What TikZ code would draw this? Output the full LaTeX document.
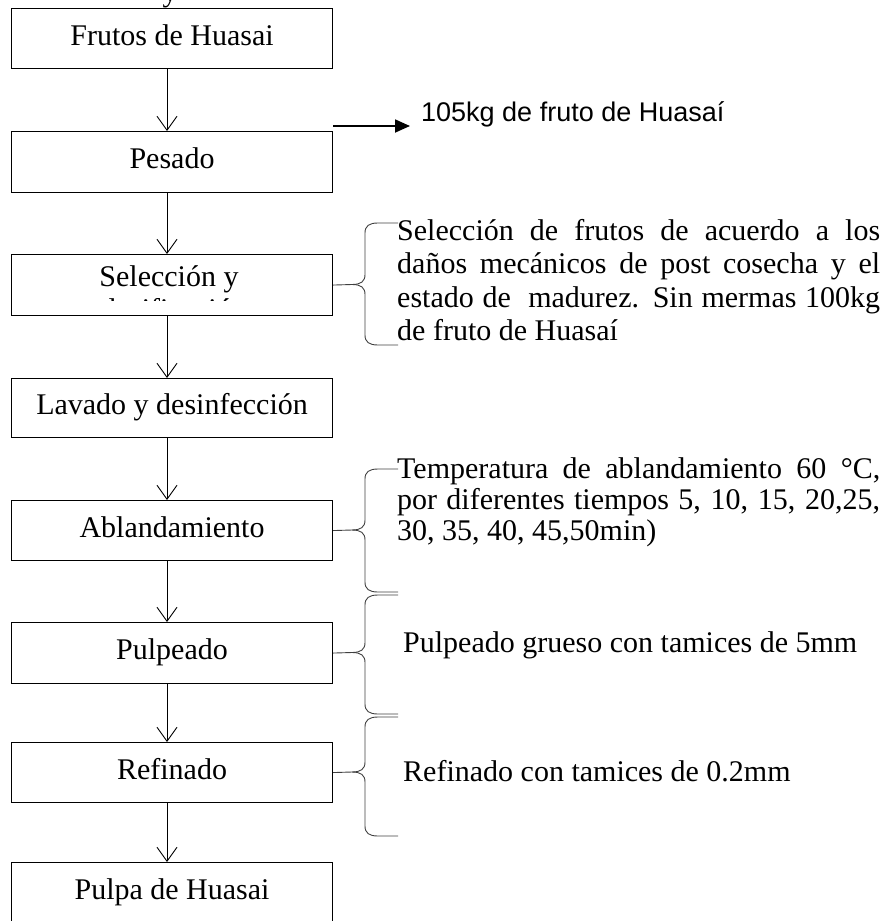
\documentclass[tikz,border=0pt]{standalone}
\usepackage{fontspec}
\setmainfont{Liberation Serif}
\newfontfamily\arialfont{Liberation Sans}
\usetikzlibrary{arrows.meta}

% side brace: #1 = stage node, #2 = top y, #3 = middle y, #4 = bottom y
\newcommand\sidebrace[4]{%
  \draw[bracestyle] (#1.east) -- (352,#3)
    .. controls (361,#3) and (365,#3-3) .. (365,#3-10)
    -- (365,#2+10) .. controls (365,#2+3) and (369,#2) .. (378,#2) -- (398,#2);
  \draw[bracestyle] (352,#3)
    .. controls (361,#3) and (365,#3+3) .. (365,#3+10)
    -- (365,#4-10) .. controls (365,#4-3) and (369,#4) .. (378,#4) -- (398,#4);
}

\begin{document}
\begin{tikzpicture}[x=1pt,y=-1pt,
  stage/.style={draw, line width=1.1pt, minimum width=321pt, inner sep=0pt,
    anchor=north west, font=\fontsize{30}{34}\selectfont,
    text height=20pt, text depth=6.5pt},
  flow/.style={line width=0.9pt,
    -{Straight Barb[length=14pt,width=20pt,line width=0.9pt]}},
  note/.style={inner sep=0pt, anchor=base west, text width=483pt, align=justify,
    execute at begin node={\hyphenpenalty=10000 \tolerance=10000 }},
  line/.style={inner sep=0pt, anchor=base west, font=\fontsize{30}{33.5}\selectfont},
  bracestyle/.style={line width=0.9pt, black!75}]

\useasboundingbox (0,0) rectangle (887,921);

% descender of the heading line above the chart
\node[inner sep=0pt, anchor=base, font=\fontsize{30}{34}\selectfont] (head) at (170,1) {y};

% process stages
\node[stage, minimum height=60pt] (frutos) at (11,8)   {Frutos de Huasai};
\node[stage, minimum height=61pt] (pesado) at (11,131) {Pesado};
\node[stage, minimum height=61pt] (selec)  at (11,254) {};
\node[stage, minimum height=59pt] (lavado) at (11,378) {Lavado y desinfección};
\node[stage, minimum height=60pt] (ablan)  at (11,500) {Ablandamiento};
\node[stage, minimum height=61pt] (pulpeo) at (11,622) {Pulpeado};
\node[stage, minimum height=60pt] (refin)  at (11,742) {Refinado};
\node[stage, minimum height=61pt] (pulpa)  at (11,862) {Pulpa de Huasai};

% label of the selection stage (second line cut by the frame)
\node[inner sep=0pt, anchor=base, font=\fontsize{30}{34}\selectfont] (seltxt) at (169,286) {Selección y};
\begin{scope}
  \clip (12,298) rectangle (331,300.5);
  \node[inner sep=0pt, anchor=base, font=\fontsize{30}{34}\selectfont] (selcut) at (171,319.5) {clasificación};
\end{scope}

% flow arrows
\coordinate (ax) at (167,0);
\draw[flow] (frutos.south -| ax) -- (pesado.north -| ax);
\draw[flow] (pesado.south -| ax) -- (selec.north -| ax);
\draw[flow] (selec.south -| ax)  -- (lavado.north -| ax);
\draw[flow] (lavado.south -| ax) -- (ablan.north -| ax);
\draw[flow] (ablan.south -| ax)  -- (pulpeo.north -| ax);
\draw[flow] (pulpeo.south -| ax) -- (refin.north -| ax);
\draw[flow] (refin.south -| ax)  -- (pulpa.north -| ax);

% weighing output
\node[inner sep=0pt, anchor=base west, font=\arialfont\fontsize{27}{30}\selectfont] (peso) at (421,121) {105kg de fruto de Huasaí};
\coordinate (pesotip) at (410,126);
\draw[line width=1.8pt, -{Triangle[length=15pt,width=13pt]}] ([yshift=5pt]pesado.north east) -- (pesotip);

% notes
\node[note, font=\fontsize{30}{33.5}\selectfont] (nsel) at (397,240) {Selección de frutos de acuerdo a los daños mecánicos de post cosecha y el estado de\ \ madurez. Sin mermas 100kg de fruto de Huasaí};
\node[note, font=\fontsize{30}{31}\selectfont] (nabl) at (397,478) {Temperatura de ablandamiento 60 °C, por diferentes tiempos 5, 10, 15, 20,25, 30, 35, 40, 45,50min)};
\node[line] (npul) at (403,652) {Pulpeado grueso con tamices de 5mm};
\node[line] (nref) at (403,781) {Refinado con tamices de 0.2mm};

% braces
\sidebrace{selec}{223}{284.5}{345}
\sidebrace{ablan}{469}{530}{592}
\sidebrace{pulpeo}{595}{652.5}{714}
\sidebrace{refin}{717}{772}{836}
\end{tikzpicture}
\end{document}
